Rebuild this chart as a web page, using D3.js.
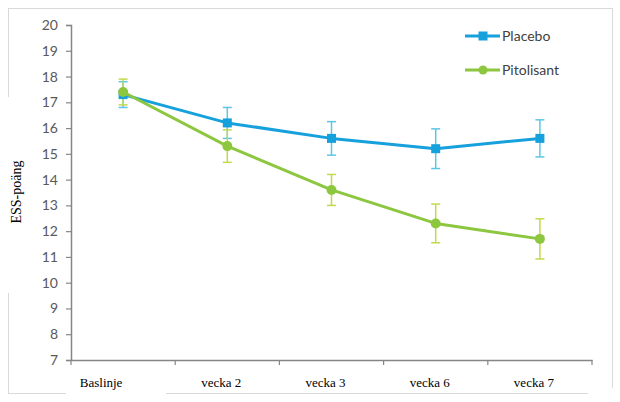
<!DOCTYPE html>
<html><head><meta charset="utf-8">
<script src="https://cdn.jsdelivr.net/npm/d3@7"></script>
<style>html,body{margin:0;padding:0;background:#fff;}</style>
</head><body>
<svg id="chart" width="620" height="402"></svg>
<script>
const categories = ["Baslinje", "vecka 2", "vecka 3", "vecka 6", "vecka 7"];
const placeboValues = [17.3, 16.2, 15.6, 15.2, 15.6];
const placeboErrors = [0.5, 0.6, 0.65, 0.77, 0.72];
const pitolisantValues = [17.4, 15.3, 13.6, 12.3, 11.7];
const pitolisantErrors = [0.5, 0.63, 0.6, 0.75, 0.78];
const yTicks = [7, 8, 9, 10, 11, 12, 13, 14, 15, 16, 17, 18, 19, 20];
const seriesNames = ["Placebo", "Pitolisant"];
const yLabel = "ESS-poäng";

const svg = d3.select("#chart");
const plotLeft = 71, plotRight = 592, plotTop = 25, plotBottom = 360;

// outer frame (partially covered by pasted label patches)
const frame = svg.append("g").attr("stroke", "#d9d9d9").attr("stroke-width", 1).attr("fill", "none");
frame.append("rect").attr("x", 8.5).attr("y", 8.5).attr("width", 604).attr("height", 385);
svg.append("rect").attr("x", 0).attr("y", 97).attr("width", 40).attr("height", 196).attr("fill", "#fff");
svg.append("rect").attr("x", 66).attr("y", 368).attr("width", 100).attr("height", 30).attr("fill", "#fff");
svg.append("rect").attr("x", 588).attr("y", 388).attr("width", 30).attr("height", 12).attr("fill", "#fff");

const x = d3.scaleBand().domain(categories).range([plotLeft, plotRight]);
const y = d3.scaleLinear().domain([7, 20]).range([plotBottom, plotTop]);

// y axis
const yAxis = svg.append("g").attr("transform", `translate(${plotLeft},0)`)
  .call(d3.axisLeft(y).tickValues(yTicks).tickSize(5).tickPadding(8));
yAxis.select(".domain").attr("stroke", "#868686").attr("stroke-width", 1.5);
yAxis.selectAll(".tick line").attr("stroke", "#868686").attr("stroke-width", 1.2);
yAxis.selectAll(".tick text").attr("fill", "#595959").attr("font-family", "Lato, 'Open Sans', sans-serif").attr("font-size", 14);

// x axis
const xAxis = svg.append("g").attr("transform", `translate(0,${plotBottom})`)
  .call(d3.axisBottom(x).tickSize(0).tickFormat(""));
xAxis.select(".domain").attr("stroke", "#868686").attr("stroke-width", 1.5);
const bounds = categories.map(c => x(c)).concat([x.range()[1]]);
svg.append("g").selectAll("line").data(bounds).join("line")
  .attr("x1", d => d).attr("x2", d => d).attr("y1", plotBottom).attr("y2", plotBottom + 5)
  .attr("stroke", "#868686").attr("stroke-width", 1.2);

// x labels (serif, pasted)
svg.append("g").selectAll("text").data(categories).join("text")
  .attr("x", (d, i) => x(d) + x.bandwidth() / 2 + (i === 0 ? -22 : -6))
  .attr("y", 387)
  .attr("text-anchor", "middle")
  .attr("font-family", "'Liberation Serif', 'Times New Roman', serif")
  .attr("font-size", 13).attr("fill", "#000")
  .text(d => d);

// y label
svg.append("text")
  .attr("transform", "translate(21,192) rotate(-90)")
  .attr("text-anchor", "middle")
  .attr("font-family", "'Liberation Serif', 'Times New Roman', serif")
  .attr("font-size", 14).attr("fill", "#000")
  .text(yLabel);

const series = [
  {name: seriesNames[0], values: placeboValues, errors: placeboErrors, line: "#16a1dd", err: "#5cc6e6", marker: "square"},
  {name: seriesNames[1], values: pitolisantValues, errors: pitolisantErrors, line: "#8dc63f", err: "#c4d94a", marker: "circle"}
];
const cx = c => x(c) + x.bandwidth() / 2;
const lineGen = d3.line().x(d => cx(d.c)).y(d => y(d.v));

// error bars
series.forEach(s => {
  const g = svg.append("g").attr("stroke", s.err).attr("stroke-width", 1.5);
  const data = categories.map((c, i) => ({c, v: s.values[i], e: s.errors[i]}));
  g.selectAll("line.v").data(data).join("line").attr("class", "v")
    .attr("x1", d => cx(d.c)).attr("x2", d => cx(d.c))
    .attr("y1", d => y(d.v + d.e)).attr("y2", d => y(d.v - d.e));
  g.selectAll("line.t").data(data).join("line").attr("class", "t")
    .attr("x1", d => cx(d.c) - 4.5).attr("x2", d => cx(d.c) + 4.5)
    .attr("y1", d => y(d.v + d.e)).attr("y2", d => y(d.v + d.e));
  g.selectAll("line.b").data(data).join("line").attr("class", "b")
    .attr("x1", d => cx(d.c) - 4.5).attr("x2", d => cx(d.c) + 4.5)
    .attr("y1", d => y(d.v - d.e)).attr("y2", d => y(d.v - d.e));
});

// lines + markers
series.forEach(s => {
  const data = categories.map((c, i) => ({c, v: s.values[i]}));
  svg.append("path").datum(data).attr("d", lineGen)
    .attr("fill", "none").attr("stroke", s.line).attr("stroke-width", 3).attr("stroke-linejoin", "round");
  if (s.marker === "square") {
    svg.append("g").selectAll("rect").data(data).join("rect")
      .attr("x", d => cx(d.c) - 4.5).attr("y", d => y(d.v) - 4.5)
      .attr("width", 9).attr("height", 9).attr("fill", s.line);
  } else {
    svg.append("g").selectAll("circle").data(data).join("circle")
      .attr("cx", d => cx(d.c)).attr("cy", d => y(d.v)).attr("r", 5).attr("fill", s.line);
  }
});

// legend
const legend = svg.append("g");
series.forEach((s, i) => {
  const ly = 36 + i * 34;
  legend.append("line").attr("x1", 465).attr("x2", 500).attr("y1", ly).attr("y2", ly)
    .attr("stroke", s.line).attr("stroke-width", 3);
  if (s.marker === "square") {
    legend.append("rect").attr("x", 478.5).attr("y", ly - 4.5).attr("width", 9).attr("height", 9).attr("fill", s.line);
  } else {
    legend.append("circle").attr("cx", 483).attr("cy", ly).attr("r", 4.5).attr("fill", s.line);
  }
  legend.append("text").attr("x", 502).attr("y", ly + 5)
    .attr("font-family", "Lato, 'Open Sans', sans-serif").attr("font-size", 14)
    .attr("fill", "#404040").text(s.name);
});
</script>
</body></html>
